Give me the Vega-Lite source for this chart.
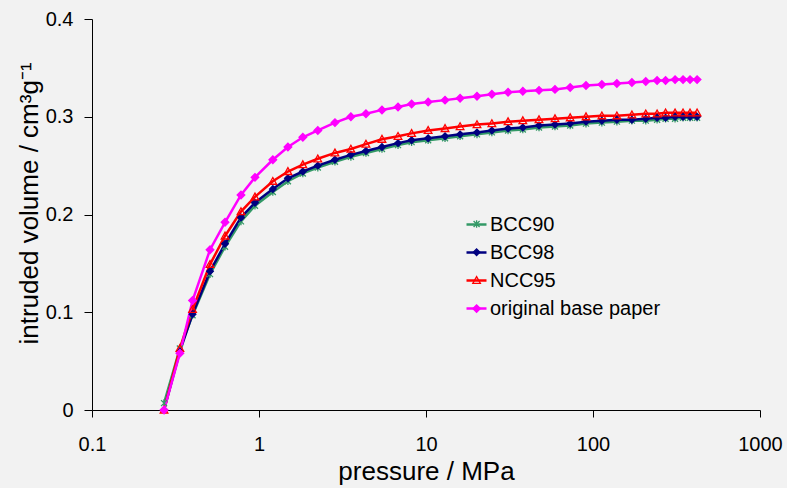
{
  "$schema": "https://vega.github.io/schema/vega-lite/v6.json",
  "width": 668,
  "height": 391,
  "autosize": "none",
  "padding": {"left": 92, "top": 19, "right": 27, "bottom": 78},
  "background": "#f2f2f2",
  "config": {"font": "Liberation Sans", "view": {"stroke": null}},
  "data": {"values": [
    {"s":"BCC90","p":0.27,"v":0.007},{"s":"BCC90","p":0.336,"v":0.063},{"s":"BCC90","p":0.40,"v":0.097},{"s":"BCC90","p":0.509,"v":0.139},{"s":"BCC90","p":0.626,"v":0.167},{"s":"BCC90","p":0.78,"v":0.193},{"s":"BCC90","p":0.946,"v":0.209},{"s":"BCC90","p":1.21,"v":0.223},{"s":"BCC90","p":1.49,"v":0.234},{"s":"BCC90","p":1.83,"v":0.242},{"s":"BCC90","p":2.25,"v":0.248},{"s":"BCC90","p":2.85,"v":0.254},{"s":"BCC90","p":3.55,"v":0.259},{"s":"BCC90","p":4.37,"v":0.263},{"s":"BCC90","p":5.45,"v":0.267},{"s":"BCC90","p":6.8,"v":0.271},{"s":"BCC90","p":8.2,"v":0.274},{"s":"BCC90","p":10.3,"v":0.276},{"s":"BCC90","p":13.0,"v":0.278},{"s":"BCC90","p":16.0,"v":0.280},{"s":"BCC90","p":20.2,"v":0.282},{"s":"BCC90","p":24.8,"v":0.284},{"s":"BCC90","p":31.0,"v":0.286},{"s":"BCC90","p":38.0,"v":0.287},{"s":"BCC90","p":47.5,"v":0.289},{"s":"BCC90","p":59.2,"v":0.290},{"s":"BCC90","p":73.0,"v":0.291},{"s":"BCC90","p":90.8,"v":0.293},{"s":"BCC90","p":113,"v":0.294},{"s":"BCC90","p":139,"v":0.295},{"s":"BCC90","p":171,"v":0.296},{"s":"BCC90","p":207,"v":0.296},{"s":"BCC90","p":242,"v":0.297},{"s":"BCC90","p":272,"v":0.298},{"s":"BCC90","p":310,"v":0.298},{"s":"BCC90","p":346,"v":0.299},{"s":"BCC90","p":381,"v":0.299},{"s":"BCC90","p":420,"v":0.299},
    {"s":"BCC98","p":0.27,"v":0.0},{"s":"BCC98","p":0.336,"v":0.060},{"s":"BCC98","p":0.40,"v":0.098},{"s":"BCC98","p":0.509,"v":0.142},{"s":"BCC98","p":0.626,"v":0.170},{"s":"BCC98","p":0.78,"v":0.197},{"s":"BCC98","p":0.946,"v":0.212},{"s":"BCC98","p":1.21,"v":0.226},{"s":"BCC98","p":1.49,"v":0.237},{"s":"BCC98","p":1.83,"v":0.244},{"s":"BCC98","p":2.25,"v":0.250},{"s":"BCC98","p":2.85,"v":0.256},{"s":"BCC98","p":3.55,"v":0.261},{"s":"BCC98","p":4.37,"v":0.265},{"s":"BCC98","p":5.45,"v":0.269},{"s":"BCC98","p":6.8,"v":0.273},{"s":"BCC98","p":8.2,"v":0.276},{"s":"BCC98","p":10.3,"v":0.278},{"s":"BCC98","p":13.0,"v":0.280},{"s":"BCC98","p":16.0,"v":0.282},{"s":"BCC98","p":20.2,"v":0.284},{"s":"BCC98","p":24.8,"v":0.286},{"s":"BCC98","p":31.0,"v":0.288},{"s":"BCC98","p":38.0,"v":0.289},{"s":"BCC98","p":47.5,"v":0.291},{"s":"BCC98","p":59.2,"v":0.292},{"s":"BCC98","p":73.0,"v":0.293},{"s":"BCC98","p":90.8,"v":0.295},{"s":"BCC98","p":113,"v":0.296},{"s":"BCC98","p":139,"v":0.297},{"s":"BCC98","p":171,"v":0.297},{"s":"BCC98","p":207,"v":0.298},{"s":"BCC98","p":242,"v":0.299},{"s":"BCC98","p":272,"v":0.299},{"s":"BCC98","p":310,"v":0.300},{"s":"BCC98","p":346,"v":0.300},{"s":"BCC98","p":381,"v":0.300},{"s":"BCC98","p":420,"v":0.300},
    {"s":"NCC95","p":0.27,"v":0.0},{"s":"NCC95","p":0.336,"v":0.063},{"s":"NCC95","p":0.40,"v":0.103},{"s":"NCC95","p":0.509,"v":0.149},{"s":"NCC95","p":0.626,"v":0.178},{"s":"NCC95","p":0.78,"v":0.203},{"s":"NCC95","p":0.946,"v":0.218},{"s":"NCC95","p":1.21,"v":0.234},{"s":"NCC95","p":1.49,"v":0.244},{"s":"NCC95","p":1.83,"v":0.251},{"s":"NCC95","p":2.25,"v":0.257},{"s":"NCC95","p":2.85,"v":0.263},{"s":"NCC95","p":3.55,"v":0.267},{"s":"NCC95","p":4.37,"v":0.272},{"s":"NCC95","p":5.45,"v":0.277},{"s":"NCC95","p":6.8,"v":0.280},{"s":"NCC95","p":8.2,"v":0.283},{"s":"NCC95","p":10.3,"v":0.286},{"s":"NCC95","p":13.0,"v":0.288},{"s":"NCC95","p":16.0,"v":0.290},{"s":"NCC95","p":20.2,"v":0.292},{"s":"NCC95","p":24.8,"v":0.293},{"s":"NCC95","p":31.0,"v":0.295},{"s":"NCC95","p":38.0,"v":0.296},{"s":"NCC95","p":47.5,"v":0.297},{"s":"NCC95","p":59.2,"v":0.298},{"s":"NCC95","p":73.0,"v":0.299},{"s":"NCC95","p":90.8,"v":0.300},{"s":"NCC95","p":113,"v":0.301},{"s":"NCC95","p":139,"v":0.301},{"s":"NCC95","p":171,"v":0.302},{"s":"NCC95","p":207,"v":0.303},{"s":"NCC95","p":242,"v":0.303},{"s":"NCC95","p":272,"v":0.304},{"s":"NCC95","p":310,"v":0.304},{"s":"NCC95","p":346,"v":0.304},{"s":"NCC95","p":381,"v":0.304},{"s":"NCC95","p":420,"v":0.304},
    {"s":"original base paper","p":0.27,"v":0.0},{"s":"original base paper","p":0.336,"v":0.058},{"s":"original base paper","p":0.40,"v":0.112},{"s":"original base paper","p":0.509,"v":0.164},{"s":"original base paper","p":0.626,"v":0.192},{"s":"original base paper","p":0.78,"v":0.220},{"s":"original base paper","p":0.946,"v":0.238},{"s":"original base paper","p":1.21,"v":0.256},{"s":"original base paper","p":1.49,"v":0.269},{"s":"original base paper","p":1.83,"v":0.279},{"s":"original base paper","p":2.25,"v":0.286},{"s":"original base paper","p":2.85,"v":0.294},{"s":"original base paper","p":3.55,"v":0.300},{"s":"original base paper","p":4.37,"v":0.303},{"s":"original base paper","p":5.45,"v":0.307},{"s":"original base paper","p":6.8,"v":0.310},{"s":"original base paper","p":8.2,"v":0.313},{"s":"original base paper","p":10.3,"v":0.315},{"s":"original base paper","p":13.0,"v":0.317},{"s":"original base paper","p":16.0,"v":0.319},{"s":"original base paper","p":20.2,"v":0.321},{"s":"original base paper","p":24.8,"v":0.323},{"s":"original base paper","p":31.0,"v":0.325},{"s":"original base paper","p":38.0,"v":0.326},{"s":"original base paper","p":47.5,"v":0.327},{"s":"original base paper","p":59.2,"v":0.328},{"s":"original base paper","p":73.0,"v":0.330},{"s":"original base paper","p":90.8,"v":0.332},{"s":"original base paper","p":113,"v":0.333},{"s":"original base paper","p":139,"v":0.334},{"s":"original base paper","p":171,"v":0.335},{"s":"original base paper","p":207,"v":0.336},{"s":"original base paper","p":242,"v":0.337},{"s":"original base paper","p":272,"v":0.337},{"s":"original base paper","p":310,"v":0.338},{"s":"original base paper","p":346,"v":0.338},{"s":"original base paper","p":381,"v":0.338},{"s":"original base paper","p":420,"v":0.338}
  ]},
  "encoding": {
    "x": {"field": "p", "type": "quantitative",
      "scale": {"type": "log", "domain": [0.1, 1000], "nice": false},
      "axis": {"title": "pressure / MPa", "values": [0.1, 1, 10, 100, 1000], "format": "~g", "grid": false,
        "domainColor": "black", "tickColor": "black", "tickSize": 7, "labelFontSize": 20, "labelColor": "black",
        "labelPadding": 17, "labelFlush": false, "labelOverlap": false,
        "titleFontSize": 26, "titleFontWeight": "normal", "titleColor": "black", "titleBaseline": "alphabetic", "titleY": 69}},
    "y": {"field": "v", "type": "quantitative",
      "scale": {"domain": [0, 0.4], "nice": false},
      "axis": {"title": "intruded volume / cm³g⁻¹", "values": [0, 0.1, 0.2, 0.3, 0.4], "format": "~g", "grid": false,
        "domainColor": "black", "tickColor": "black", "tickSize": 8, "labelFontSize": 20, "labelColor": "black",
        "labelPadding": 11, "labelFlush": false, "labelOverlap": false,
        "titleFontSize": 26, "titleFontWeight": "normal", "titleColor": "black", "titleBaseline": "alphabetic",
        "titleX": -55, "titleY": 184}}
  },
  "layer": [
    {"mark": {"type": "line", "strokeWidth": 2.5},
     "encoding": {"color": {"field": "s", "type": "nominal",
        "scale": {"domain": ["BCC90", "BCC98", "NCC95", "original base paper"], "range": ["#339966", "#000080", "#ff0000", "#ff00ff"]},
        "legend": {"title": null, "orient": "none", "legendX": 373, "legendY": 194, "padding": 0, "rowPadding": 6,
          "symbolType": "stroke", "symbolSize": 400, "symbolStrokeWidth": 2.5, "labelFontSize": 20, "labelColor": "black",
          "labelOffset": 2, "labelLimit": 400}}}},
    {"mark": {"type": "point", "strokeWidth": 1.3, "opacity": 1, "size": 400},
     "encoding": {
       "shape": {"field": "s", "type": "nominal",
         "scale": {"range": ["M-0.3,-0.3L0.3,0.3M-0.3,0.3L0.3,-0.3M0,-0.38L0,0.38", "M-0.33,0L0,-0.33L0.33,0L0,0.33Z", "M-0.38,0.3L0,-0.38L0.38,0.3Z", "M-0.38,0L0,-0.38L0.38,0L0,0.38Z"]},
         "legend": {"title": null, "orient": "none", "legendX": 373.6, "legendY": 194, "padding": 0, "rowPadding": 7.2,
          "symbolSize": 400, "symbolStrokeWidth": 1.3, "labelFontSize": 20, "labelExpr": "''", "labelOffset": 2}},
       "stroke": {"field": "s", "type": "nominal",
         "scale": {"range": ["#339966", "#000080", "#ff0000", "#ff00ff"]}},
       "fill": {"field": "s", "type": "nominal",
         "scale": {"range": ["transparent", "#000080", "transparent", "#ff00ff"]}}
     }}
  ]
}
